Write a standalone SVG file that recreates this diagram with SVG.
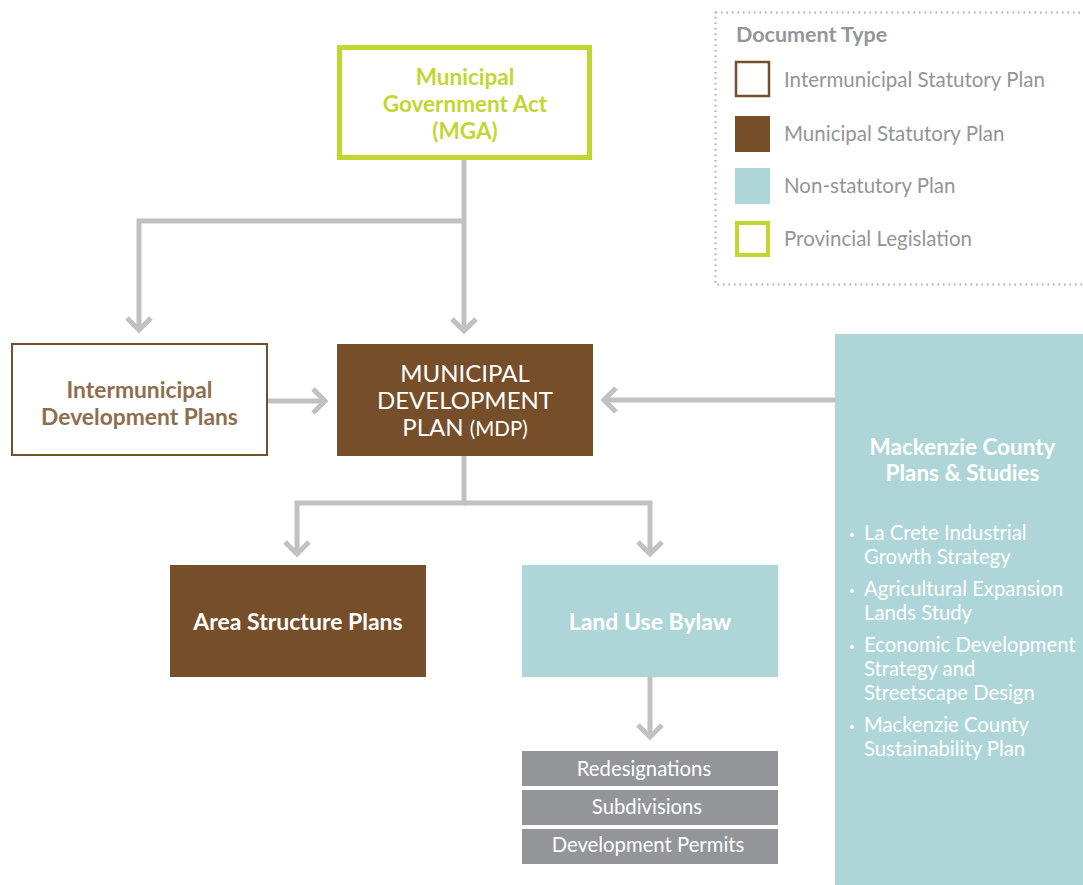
<svg xmlns="http://www.w3.org/2000/svg" width="1083" height="885" viewBox="0 0 1083 885">
<defs>
<style>
.t{font-family:Lato,"Open Sans","Liberation Sans",sans-serif;}
.conn{fill:none;stroke:#c1c1c2;stroke-width:5;}
.lg{font-size:20.5px;fill:#939598;}
.wb{fill:#ffffff;font-weight:bold;}
</style>
<marker id="chev" markerUnits="userSpaceOnUse" markerWidth="30" markerHeight="30" refX="14" refY="14" orient="auto" overflow="visible">
<path d="M2,2 L14,14 L2,26" fill="none" stroke="#c1c1c2" stroke-width="5"/>
</marker>
</defs>
<rect width="1083" height="885" fill="#ffffff"/>

<g id="legend" class="t">
<rect x="715.5" y="12.5" width="380" height="272" fill="none" stroke="#a7a9ac" stroke-width="2" stroke-dasharray="1.5,4"/>
<text x="736" y="42" font-size="21.5" font-weight="bold" fill="#939598">Document Type</text>
<rect x="736" y="62" width="33" height="34" fill="#fff" stroke="#764f2a" stroke-width="2.5"/>
<text x="784" y="87" class="lg">Intermunicipal Statutory Plan</text>
<rect x="735" y="116" width="35" height="36" fill="#764f2a"/>
<text x="784" y="141" class="lg">Municipal Statutory Plan</text>
<rect x="735" y="168" width="35" height="36" fill="#aed6d8"/>
<text x="784" y="193" class="lg">Non-statutory Plan</text>
<rect x="737" y="223" width="31" height="32" fill="#fff" stroke="#c2d631" stroke-width="4"/>
<text x="784" y="246" class="lg">Provincial Legislation</text>
</g>

<g id="connectors">
<path class="conn" d="M464,160 V331" marker-end="url(#chev)"/>
<path class="conn" d="M464,221 H139 V330" marker-end="url(#chev)"/>
<path class="conn" d="M268,401 H325" marker-end="url(#chev)"/>
<path class="conn" d="M835,400 H604" marker-end="url(#chev)"/>
<path class="conn" d="M464,456 V503 H297 V554" marker-end="url(#chev)"/>
<path class="conn" d="M464,503 H650 V554" marker-end="url(#chev)"/>
<path class="conn" d="M650,677 V737" marker-end="url(#chev)"/>
</g>

<g id="mga" class="t">
<rect x="339.5" y="47.5" width="250" height="110" fill="#fff" stroke="#c2d631" stroke-width="5"/>
<text font-size="22.5" font-weight="bold" fill="#c2d631" text-anchor="middle"><tspan x="465" y="85">Municipal</tspan><tspan x="465" y="112">Government Act</tspan><tspan x="465" y="139">(MGA)</tspan></text>
</g>

<g id="idp" class="t">
<rect x="12" y="344" width="255" height="111" fill="#fff" stroke="#764f2a" stroke-width="2"/>
<text font-size="22.8" font-weight="bold" fill="#8f6e4d" text-anchor="middle"><tspan x="139.5" y="398">Intermunicipal</tspan><tspan x="139.5" y="425">Development Plans</tspan></text>
</g>

<g id="mdp" class="t">
<rect x="337" y="344" width="256" height="112" fill="#764f2a"/>
<text font-size="24" fill="#ffffff" text-anchor="middle"><tspan x="465" y="382">MUNICIPAL</tspan><tspan x="465" y="409">DEVELOPMENT</tspan><tspan x="465" y="436">PLAN <tspan font-size="20.5">(MDP)</tspan></tspan></text>
</g>

<g id="asp" class="t">
<rect x="170" y="565" width="256" height="112" fill="#764f2a"/>
<text x="298" y="630" font-size="23" text-anchor="middle" class="wb">Area Structure Plans</text>
</g>

<g id="lub" class="t">
<rect x="522" y="565" width="256" height="112" fill="#aed6d8"/>
<text x="650" y="630" font-size="23" text-anchor="middle" class="wb">Land Use Bylaw</text>
</g>

<g id="redesignations" class="t">
<rect x="522" y="751" width="256" height="35" fill="#939598"/>
<text x="644" y="776" font-size="20.3" fill="#fff" text-anchor="middle">Redesignations</text>
</g>
<g id="subdivisions" class="t">
<rect x="522" y="790" width="256" height="35" fill="#939598"/>
<text x="647" y="814" font-size="20.3" fill="#fff" text-anchor="middle">Subdivisions</text>
</g>
<g id="permits" class="t">
<rect x="522" y="829" width="256" height="35" fill="#939598"/>
<text x="648" y="852" font-size="20.3" fill="#fff" text-anchor="middle">Development Permits</text>
</g>

<g id="mackenzie" class="t">
<rect x="835" y="334" width="248" height="551" fill="#aed6d8"/>
<text font-size="22.5" text-anchor="middle" class="wb"><tspan x="962.5" y="455">Mackenzie County</tspan><tspan x="962.5" y="481">Plans &amp; Studies</tspan></text>
<g font-size="20.3" fill="#ffffff">
<circle cx="852" cy="535" r="2" fill="#fff"/>
<circle cx="852" cy="591" r="2" fill="#fff"/>
<circle cx="852" cy="647" r="2" fill="#fff"/>
<circle cx="852" cy="727" r="2" fill="#fff"/>
<text x="864" y="540">La Crete Industrial</text>
<text x="864" y="564">Growth Strategy</text>
<text x="864" y="596">Agricultural Expansion</text>
<text x="864" y="620">Lands Study</text>
<text x="864" y="652">Economic Development</text>
<text x="864" y="676">Strategy and</text>
<text x="864" y="700">Streetscape Design</text>
<text x="864" y="732">Mackenzie County</text>
<text x="864" y="756">Sustainability Plan</text>
</g>
</g>
</svg>
